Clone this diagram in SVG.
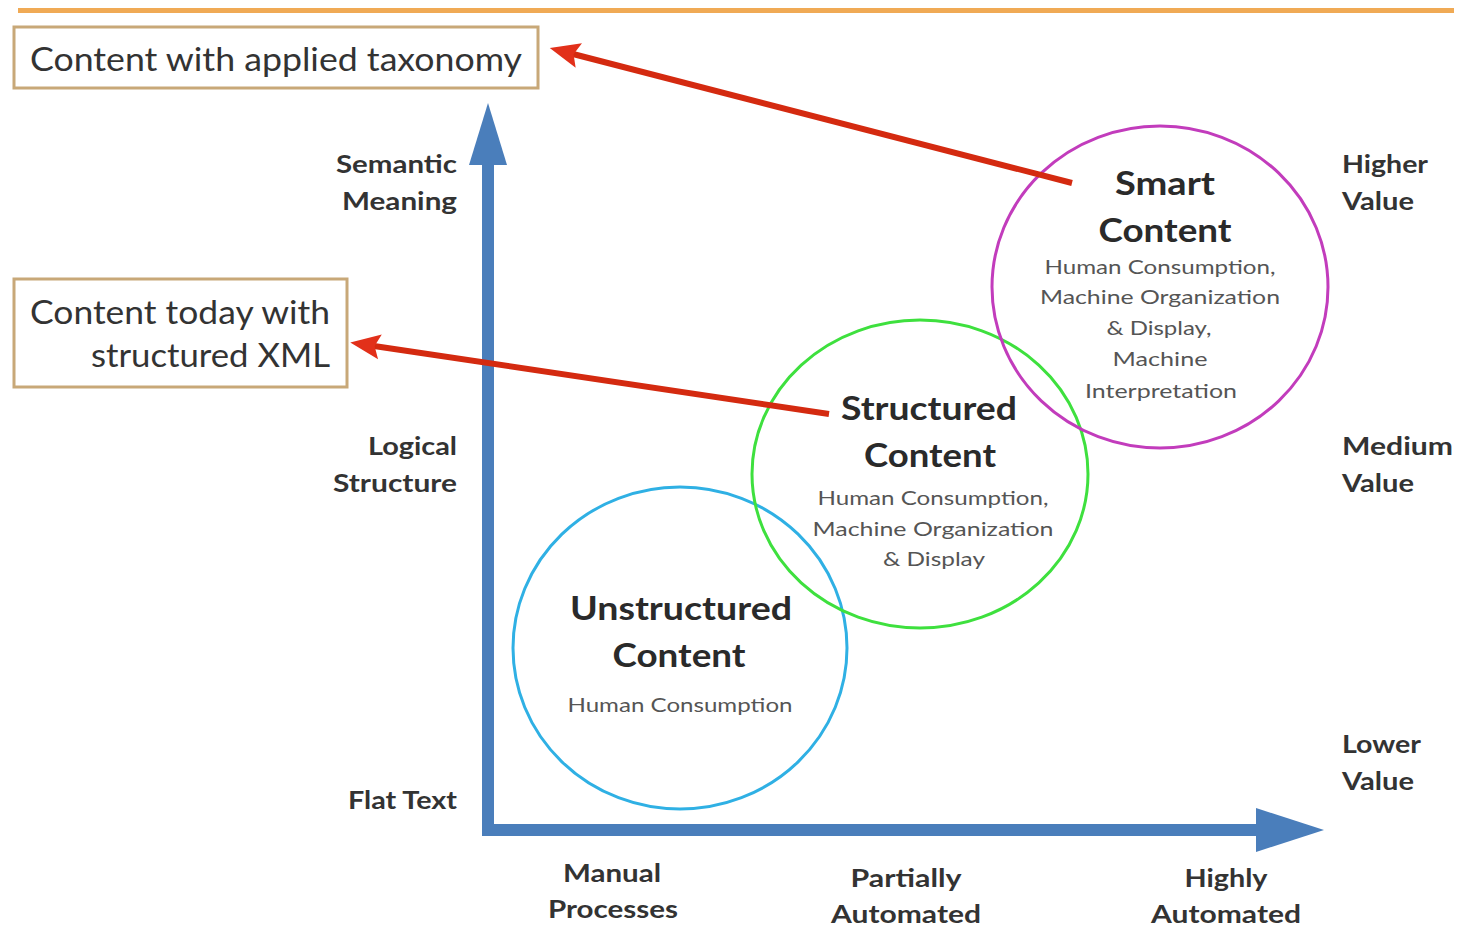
<svg xmlns="http://www.w3.org/2000/svg" width="1459" height="931" viewBox="0 0 1459 931">
<style>
.box{fill:#fff;stroke:#c8a878;stroke-width:3}
.bt{font-family:Lato,"Open Sans",sans-serif;font-size:32px;fill:#333}
.ax{font-family:Lato,"Open Sans",sans-serif;font-size:25px;font-weight:bold;fill:#333}
.ti{font-family:Lato,"Open Sans",sans-serif;font-size:33px;font-weight:bold;fill:#2a2a2a;text-anchor:middle}
.su{font-family:Lato,"Open Sans",sans-serif;font-size:20px;fill:#555;text-anchor:middle}
.red{stroke:#d42a10;stroke-width:6;fill:none}
</style>
<defs>
<marker id="ah" markerWidth="6" markerHeight="6" refX="1" refY="3" orient="auto" markerUnits="strokeWidth" overflow="visible">
<path d="M5,3 L0,0.9 L0.9,3 L0,5.1 Z" fill="#e2301a"/>
</marker>
</defs>
<rect x="18" y="8" width="1436" height="5" fill="#f0aa55"/>
<g id="axes" fill="#4a7ebb">
<rect x="482" y="160" width="12" height="676"/>
<polygon points="488,103 469,165 507,165"/>
<rect x="482" y="824" width="778" height="12"/>
<polygon points="1324,830 1256,808 1256,852"/>
</g>
<g id="box-taxonomy">
<rect class="box" x="14" y="27" width="524" height="61"/>
<text class="bt" x="30" y="71" textLength="492" lengthAdjust="spacingAndGlyphs">Content with applied taxonomy</text>
</g>
<g id="box-xml">
<rect class="box" x="14" y="279" width="333" height="108"/>
<text class="bt" text-anchor="end" x="330" y="324" textLength="300" lengthAdjust="spacingAndGlyphs">Content today with</text>
<text class="bt" text-anchor="end" x="330" y="367" textLength="239" lengthAdjust="spacingAndGlyphs">structured XML</text>
</g>
<g id="ylabels" class="ax" text-anchor="end">
<text x="457" y="173" textLength="121" lengthAdjust="spacingAndGlyphs">Semantic</text>
<text x="457" y="210" textLength="115" lengthAdjust="spacingAndGlyphs">Meaning</text>
<text x="457" y="455" textLength="89" lengthAdjust="spacingAndGlyphs">Logical</text>
<text x="457" y="492" textLength="124" lengthAdjust="spacingAndGlyphs">Structure</text>
<text x="457" y="809" textLength="109" lengthAdjust="spacingAndGlyphs">Flat Text</text>
</g>
<g id="vlabels" class="ax">
<text x="1342" y="173" textLength="86" lengthAdjust="spacingAndGlyphs">Higher</text>
<text x="1342" y="210" textLength="72" lengthAdjust="spacingAndGlyphs">Value</text>
<text x="1342" y="455" textLength="111" lengthAdjust="spacingAndGlyphs">Medium</text>
<text x="1342" y="492" textLength="72" lengthAdjust="spacingAndGlyphs">Value</text>
<text x="1342" y="753" textLength="79" lengthAdjust="spacingAndGlyphs">Lower</text>
<text x="1342" y="790" textLength="72" lengthAdjust="spacingAndGlyphs">Value</text>
</g>
<g id="xlabels" class="ax" text-anchor="middle">
<text x="612" y="882" textLength="98" lengthAdjust="spacingAndGlyphs">Manual</text>
<text x="613" y="918" textLength="130" lengthAdjust="spacingAndGlyphs">Processes</text>
<text x="906" y="887" textLength="111" lengthAdjust="spacingAndGlyphs">Partially</text>
<text x="906" y="923" textLength="150" lengthAdjust="spacingAndGlyphs">Automated</text>
<text x="1226" y="887" textLength="83" lengthAdjust="spacingAndGlyphs">Highly</text>
<text x="1226" y="923" textLength="150" lengthAdjust="spacingAndGlyphs">Automated</text>
</g>
<g id="unstructured">
<ellipse cx="680" cy="648" rx="167" ry="161" fill="none" stroke="#2fb0e4" stroke-width="3"/>
<text class="ti" x="681" y="620" textLength="222" lengthAdjust="spacingAndGlyphs">Unstructured</text>
<text class="ti" x="679" y="667" textLength="133" lengthAdjust="spacingAndGlyphs">Content</text>
<text class="su" x="680" y="712" textLength="225" lengthAdjust="spacingAndGlyphs">Human Consumption</text>
</g>
<g id="structured">
<ellipse cx="920" cy="474" rx="168" ry="154" fill="none" stroke="#3ee03e" stroke-width="3"/>
<text class="ti" x="929" y="420" textLength="176" lengthAdjust="spacingAndGlyphs">Structured</text>
<text class="ti" x="930" y="467" textLength="132" lengthAdjust="spacingAndGlyphs">Content</text>
<text class="su" x="933" y="505" textLength="231" lengthAdjust="spacingAndGlyphs">Human Consumption,</text>
<text class="su" x="933" y="536" textLength="241" lengthAdjust="spacingAndGlyphs">Machine Organization</text>
<text class="su" x="934" y="566" textLength="102" lengthAdjust="spacingAndGlyphs">&amp; Display</text>
</g>
<g id="smart">
<ellipse cx="1160" cy="287" rx="168" ry="161" fill="none" stroke="#c23cbc" stroke-width="3"/>
<text class="ti" x="1165" y="195" textLength="100" lengthAdjust="spacingAndGlyphs">Smart</text>
<text class="ti" x="1165" y="242" textLength="133" lengthAdjust="spacingAndGlyphs">Content</text>
<text class="su" x="1160" y="274" textLength="231" lengthAdjust="spacingAndGlyphs">Human Consumption,</text>
<text class="su" x="1160" y="304" textLength="240" lengthAdjust="spacingAndGlyphs">Machine Organization</text>
<text class="su" x="1159" y="335" textLength="105" lengthAdjust="spacingAndGlyphs">&amp; Display,</text>
<text class="su" x="1160" y="366" textLength="95" lengthAdjust="spacingAndGlyphs">Machine</text>
<text class="su" x="1161" y="398" textLength="152" lengthAdjust="spacingAndGlyphs">Interpretation</text>
</g>
<g id="connectors">
<line class="red" x1="1072" y1="183" x2="573" y2="54" marker-end="url(#ah)"/>
<line class="red" x1="829" y1="414" x2="374" y2="346" marker-end="url(#ah)"/>
</g>
</svg>
